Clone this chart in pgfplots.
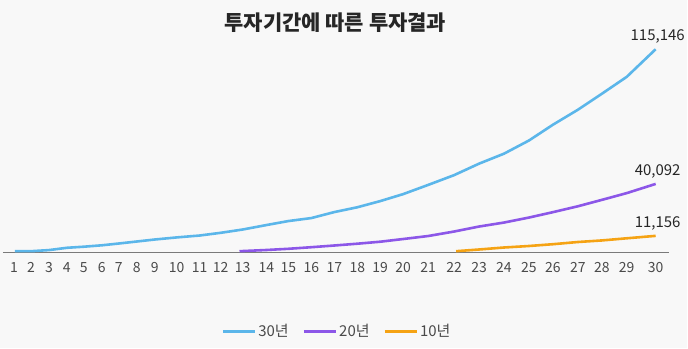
\documentclass[border=0pt]{standalone}
\usepackage{pgfplots}
\pgfplotsset{compat=1.18}
\usepackage{pgfplotstable}
\usepackage{fontspec}
\setmainfont{Noto Sans CJK KR}
\definecolor{bg}{HTML}{F8F8F8}
\definecolor{cblue}{HTML}{5BB6EA}
\definecolor{cpurple}{HTML}{8C57E8}
\definecolor{corange}{HTML}{F5A314}
\definecolor{tickgray}{HTML}{4A4A4A}
\definecolor{axgray}{HTML}{7A7A7A}

\pgfplotstableread{
x y
15 2613
31 2613
49 3225
67 4504
84 5115
102 5894
119 6894
137 8006
155 9118
177 10286
200 11342
221 12844
243 14678
267 17180
289 19404
312 21072
335 24408
358 27077
381 30524
404 34416
429 39532
455 44980
480 51374
505 56934
530 64274
554 73058
579 81398
603 90294
628 99746
657 115146
}\thirty

\pgfplotstableread{
x y
240 2613
267 3280
289 3948
312 4837
335 5782
358 6783
381 7895
404 9396
429 11064
455 13566
480 16346
505 18570
530 21350
554 24353
579 27633
603 31192
628 34972
657 40092
}\twenty

\pgfplotstableread{
x y
457 2613
480 3558
505 4670
530 5504
554 6505
579 7728
603 8600
628 9800
657 11156
}\ten

\begin{document}
\begin{tikzpicture}
\fill[bg] (0pt,0pt) rectangle (688pt,349pt);
\node[font=\fontsize{21}{21}\selectfont\bfseries, text=black!85] at (336pt,326pt) {투자기간에 따른 투자결과};
\begin{axis}[
  at={(3pt,96.3pt)}, anchor=south west,
  scale only axis, width=667pt, height=222.7pt,
  xmin=3, xmax=670, ymin=2057, ymax=125878,
  axis x line*=bottom, axis y line=none,
  x axis line style={color=axgray, line width=0.8pt, -},
  xtick={14,31,49,67,84,102,119,137,155,177,200,221,243,267,289,312,335,358,381,404,429,455,480,505,530,554,579,603,628,657},
  xticklabels={1,2,3,4,5,6,7,8,9,10,11,12,13,14,15,16,17,18,19,20,21,22,23,24,25,26,27,28,29,30},
  major tick length=0pt,
  xticklabel style={font=\fontsize{14}{14}\selectfont, text=tickgray, yshift=-7pt},
  clip=false,
  legend style={at={(axis description cs:0.502,-0.356)}, anchor=center, legend columns=3, draw=none, fill=none, font=\fontsize{15}{15}\selectfont, text=tickgray,
    /tikz/every even column/.append style={column sep=12pt}},
  legend image code/.code={\draw[#1, line width=2.6pt] (0pt,0pt) -- (32pt,0pt);},
]
\addplot[cblue, line width=2.6pt, no markers] table {\thirty};
\addlegendentry{30년}
\addplot[cpurple, line width=2.6pt, no markers] table {\twenty};
\addlegendentry{20년}
\addplot[corange, line width=2.6pt, no markers] table {\ten};
\addlegendentry{10년}
\node[above, font=\fontsize{15}{15}\selectfont, text=black!85, yshift=2pt] at (axis cs:659,115146) {115,146};
\node[above, font=\fontsize{15}{15}\selectfont, text=black!85, yshift=2pt] at (axis cs:659,40092) {40,092};
\node[above, font=\fontsize{15}{15}\selectfont, text=black!85, yshift=2pt] at (axis cs:659,11156) {11,156};
\end{axis}
\end{tikzpicture}
\end{document}
